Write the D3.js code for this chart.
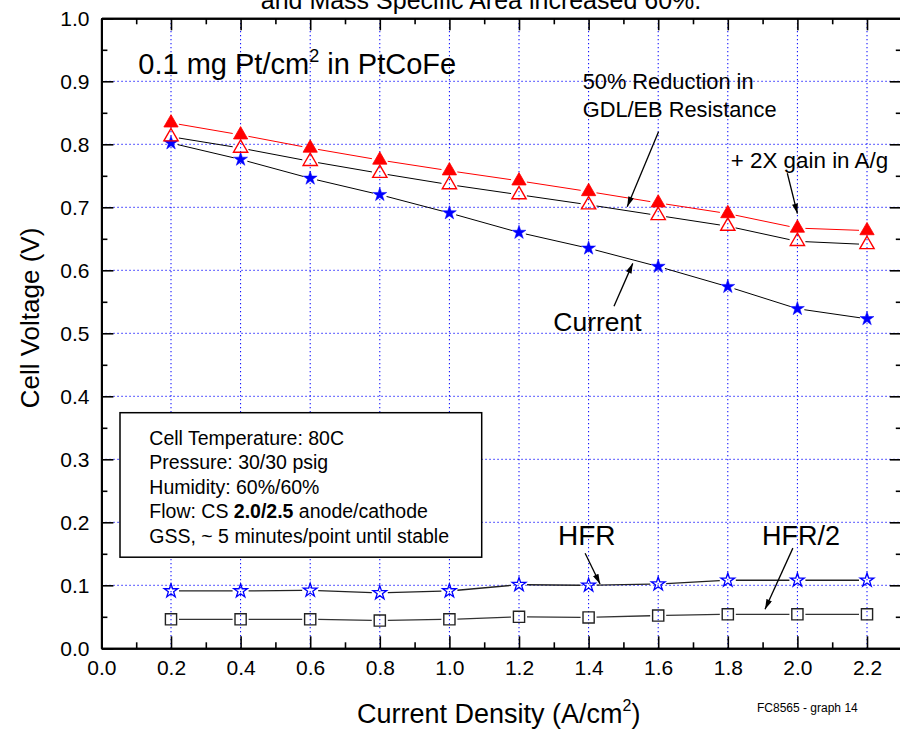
<!DOCTYPE html>
<html>
<head>
<meta charset="utf-8">
<script src="https://cdn.jsdelivr.net/npm/d3@7"></script>
<style>
  body { margin: 0; background: #fff; }
  svg { display: block; font-family: "Liberation Sans", Arial, sans-serif; }
</style>
</head>
<body>
<div id="chart"></div>
<script>
// current density (A/cm2) where every curve was measured
var currentDensity = [0.2, 0.4, 0.6, 0.8, 1.0, 1.2, 1.4, 1.6, 1.8, 2.0, 2.2];

// cell voltage (V)
var vCurrent   = [0.802, 0.776, 0.746, 0.720, 0.691, 0.660, 0.635, 0.606, 0.574, 0.539, 0.523];
var vReduction = [0.812, 0.794, 0.773, 0.754, 0.736, 0.720, 0.704, 0.687, 0.670, 0.646, 0.641];
var vGain      = [0.834, 0.815, 0.794, 0.775, 0.758, 0.742, 0.725, 0.707, 0.690, 0.667, 0.663];

// high frequency resistance
var hfr     = [0.091, 0.091, 0.092, 0.088, 0.091, 0.101, 0.100, 0.102, 0.108, 0.108, 0.108];
var hfrHalf = [0.046, 0.046, 0.046, 0.044, 0.046, 0.050, 0.049, 0.052, 0.054, 0.054, 0.054];

var xMajor = [0.0, 0.2, 0.4, 0.6, 0.8, 1.0, 1.2, 1.4, 1.6, 1.8, 2.0, 2.2];
var yMajor = [0.0, 0.1, 0.2, 0.3, 0.4, 0.5, 0.6, 0.7, 0.8, 0.9, 1.0];

var conditions = [
  ["Cell Temperature: 80C"],
  ["Pressure: 30/30 psig"],
  ["Humidity: 60%/60%"],
  ["Flow: CS ", "2.0/2.5", " anode/cathode"],
  ["GSS, ~ 5 minutes/point until stable"]
];

var width = 900;
var height = 731;

var x = d3.scaleLinear().domain([0, 2.3]).range([101.4, 901.8]);
var y = d3.scaleLinear().domain([0, 1]).range([648.3, 18.3]);

var svg = d3.select("#chart")
  .append("svg")
  .attr("width", width)
  .attr("height", height);

var defs = svg.append("defs");
defs.append("marker")
  .attr("id", "arrow")
  .attr("viewBox", "0 0 10 6")
  .attr("refX", 10)
  .attr("refY", 3)
  .attr("markerWidth", 11)
  .attr("markerHeight", 6)
  .attr("markerUnits", "userSpaceOnUse")
  .attr("orient", "auto")
  .append("path")
  .attr("d", "M0,0 L10,3 L0,6 Z")
  .attr("fill", "#000");

// cut-off title line at the very top (as in the original slide)
svg.append("text")
  .attr("x", 481)
  .attr("y", 9)
  .attr("text-anchor", "middle")
  .style("font-size", "25px")
  .text("and Mass Specific Area increased 60%.");

// dotted blue grid
var grid = svg.append("g")
  .attr("stroke", "#0000ff")
  .attr("stroke-width", 1)
  .attr("stroke-dasharray", "1.3,2.7");

grid.selectAll(".gx")
  .data(xMajor.filter(function (d) { return d > 0; }))
  .enter()
  .append("line")
  .attr("x1", function (d) { return x(d); })
  .attr("x2", function (d) { return x(d); })
  .attr("y1", y(0))
  .attr("y2", y(1));

grid.selectAll(".gy")
  .data(yMajor.filter(function (d) { return d > 0 && d < 1; }))
  .enter()
  .append("line")
  .attr("y1", function (d) { return y(d); })
  .attr("y2", function (d) { return y(d); })
  .attr("x1", x(0))
  .attr("x2", x(2.3));

// axes, ticks pointing inwards
var xMinor = d3.range(0.1, 2.3, 0.2);
var yMinor = d3.range(0.05, 1, 0.1);

function styleAxis(g) {
  g.select(".domain").attr("stroke", "#000").attr("stroke-width", 2);
  g.selectAll(".tick line").attr("stroke", "#000").attr("stroke-width", 1.6);
  g.selectAll(".tick text").attr("fill", "#000").style("font-size", "21px");
}

svg.append("g")
  .attr("transform", "translate(0," + y(0) + ")")
  .call(d3.axisBottom(x).tickValues(xMajor).tickSize(-12).tickSizeOuter(0).tickPadding(12)
    .tickFormat(d3.format(".1f")))
  .call(styleAxis);
svg.append("g")
  .attr("transform", "translate(0," + y(0) + ")")
  .call(d3.axisBottom(x).tickValues(xMinor).tickSize(-6).tickSizeOuter(0).tickFormat(""))
  .call(styleAxis);

svg.append("g")
  .attr("transform", "translate(0," + y(1) + ")")
  .call(d3.axisTop(x).tickValues(xMajor).tickSize(-12).tickSizeOuter(0).tickFormat(""))
  .call(styleAxis);
svg.append("g")
  .attr("transform", "translate(0," + y(1) + ")")
  .call(d3.axisTop(x).tickValues(xMinor).tickSize(-6).tickSizeOuter(0).tickFormat(""))
  .call(styleAxis);

svg.append("g")
  .attr("transform", "translate(" + x(0) + ",0)")
  .call(d3.axisLeft(y).tickValues(yMajor).tickSize(-12).tickSizeOuter(0).tickPadding(12)
    .tickFormat(d3.format(".1f")))
  .call(styleAxis);
svg.append("g")
  .attr("transform", "translate(" + x(0) + ",0)")
  .call(d3.axisLeft(y).tickValues(yMinor).tickSize(-6).tickSizeOuter(0).tickFormat(""))
  .call(styleAxis);

svg.append("g")
  .attr("transform", "translate(" + x(2.3) + ",0)")
  .call(d3.axisRight(y).tickValues(yMajor).tickSize(-12).tickSizeOuter(0).tickFormat(""))
  .call(styleAxis);
svg.append("g")
  .attr("transform", "translate(" + x(2.3) + ",0)")
  .call(d3.axisRight(y).tickValues(yMinor).tickSize(-6).tickSizeOuter(0).tickFormat(""))
  .call(styleAxis);

// axis titles
svg.append("text")
  .attr("transform", "translate(39," + 318 + ") rotate(-90)")
  .attr("text-anchor", "middle")
  .style("font-size", "26px")
  .text("Cell Voltage (V)");

var xTitle = svg.append("text")
  .attr("x", 357)
  .attr("y", 723)
  .style("font-size", "27px");
xTitle.append("tspan").text("Current Density (A/cm");
xTitle.append("tspan").attr("dy", -12).style("font-size", "16px").text("2");
xTitle.append("tspan").attr("dy", 12).text(")");

svg.append("text")
  .attr("x", 757)
  .attr("y", 712)
  .style("font-size", "12px")
  .text("FC8565 - graph 14");

// series: line segments stop short of the symbols
function gapped(vals, gap) {
  var pts = currentDensity.map(function (c, i) { return [x(c), y(vals[i])]; });
  return d3.pairs(pts).map(function (p) {
    var a = p[0], b = p[1];
    var dx = b[0] - a[0], dy = b[1] - a[1];
    var len = Math.hypot(dx, dy);
    var ux = dx / len, uy = dy / len;
    return [a[0] + ux * gap, a[1] + uy * gap, b[0] - ux * gap, b[1] - uy * gap];
  });
}

function drawSeries(vals, opt) {
  var g = svg.append("g");
  g.selectAll("line")
    .data(gapped(vals, opt.gap))
    .enter()
    .append("line")
    .attr("x1", function (d) { return d[0]; })
    .attr("y1", function (d) { return d[1]; })
    .attr("x2", function (d) { return d[2]; })
    .attr("y2", function (d) { return d[3]; })
    .attr("stroke", opt.line)
    .attr("stroke-width", opt.lineWidth);

  g.selectAll("path")
    .data(vals)
    .enter()
    .append("path")
    .attr("transform", function (d, i) { return "translate(" + x(currentDensity[i]) + "," + y(d) + ")"; })
    .attr("d", d3.symbol().type(opt.symbol).size(opt.size))
    .attr("fill", opt.fill)
    .attr("stroke", opt.stroke)
    .attr("stroke-width", opt.strokeWidth);
}

drawSeries(hfrHalf, { symbol: d3.symbolSquare, size: 125, fill: "none", stroke: "#222", strokeWidth: 1.4,
  line: "#333", lineWidth: 1.3, gap: 8 });
drawSeries(hfr, { symbol: d3.symbolStar, size: 58, fill: "none", stroke: "#0000ff", strokeWidth: 1.3,
  line: "#222", lineWidth: 1.3, gap: 8 });
drawSeries(vCurrent, { symbol: d3.symbolStar, size: 60, fill: "#0000ff", stroke: "#0000ff", strokeWidth: 0.5,
  line: "#000", lineWidth: 1, gap: 7 });
drawSeries(vReduction, { symbol: d3.symbolTriangle, size: 88, fill: "none", stroke: "#ff0000", strokeWidth: 1.4,
  line: "#000", lineWidth: 1, gap: 8 });
drawSeries(vGain, { symbol: d3.symbolTriangle, size: 88, fill: "#ff0000", stroke: "#ff0000", strokeWidth: 0.8,
  line: "#ff0000", lineWidth: 1, gap: 8 });

// test-conditions box
svg.append("rect")
  .attr("x", 120)
  .attr("y", 412.7)
  .attr("width", 361.7)
  .attr("height", 144.5)
  .attr("fill", "#fff")
  .attr("stroke", "#000")
  .attr("stroke-width", 1.5);

var box = svg.append("text")
  .attr("x", 149.3)
  .attr("y", 445)
  .style("font-size", "19.5px");
conditions.forEach(function (parts, i) {
  parts.forEach(function (t, j) {
    var ts = box.append("tspan").text(t);
    if (j === 0) ts.attr("x", 149.3).attr("y", 445 + i * 24.4);
    if (j === 1) ts.style("font-weight", "bold");
  });
});

// annotations
var label = svg.append("text")
  .attr("x", 138.3)
  .attr("y", 74.3)
  .style("font-size", "29px");
label.append("tspan").text("0.1 mg Pt/cm");
label.append("tspan").attr("dy", -12).style("font-size", "18px").text("2");
label.append("tspan").attr("dy", 12).text(" in PtCoFe");

var notes = [
  { text: "50% Reduction in", px: 582.7, py: 89.3, size: 21.8 },
  { text: "GDL/EB Resistance", px: 582.7, py: 117.3, size: 21.8 },
  { text: "+ 2X gain in A/g", px: 730.7, py: 168.3, size: 22.4 },
  { text: "Current", px: 553.3, py: 330.7, size: 26.5 },
  { text: "HFR", px: 558, py: 545, size: 28 },
  { text: "HFR/2", px: 762, py: 545, size: 27 }
];
svg.selectAll(".note")
  .data(notes)
  .enter()
  .append("text")
  .attr("x", function (d) { return d.px; })
  .attr("y", function (d) { return d.py; })
  .style("font-size", function (d) { return d.size + "px"; })
  .text(function (d) { return d.text; });

// arrows, in data units [x0, y0, x1, y1]
var arrows = [
  [1.601, 0.820, 1.511, 0.701],
  [1.971, 0.754, 2.000, 0.690],
  [1.473, 0.543, 1.527, 0.611],
  [1.390, 0.151, 1.433, 0.102],
  [1.987, 0.159, 1.907, 0.062]
];
svg.selectAll(".arrow")
  .data(arrows)
  .enter()
  .append("line")
  .attr("x1", function (d) { return x(d[0]); })
  .attr("y1", function (d) { return y(d[1]); })
  .attr("x2", function (d) { return x(d[2]); })
  .attr("y2", function (d) { return y(d[3]); })
  .attr("stroke", "#000")
  .attr("stroke-width", 1.3)
  .attr("marker-end", "url(#arrow)");
</script>
</body>
</html>
